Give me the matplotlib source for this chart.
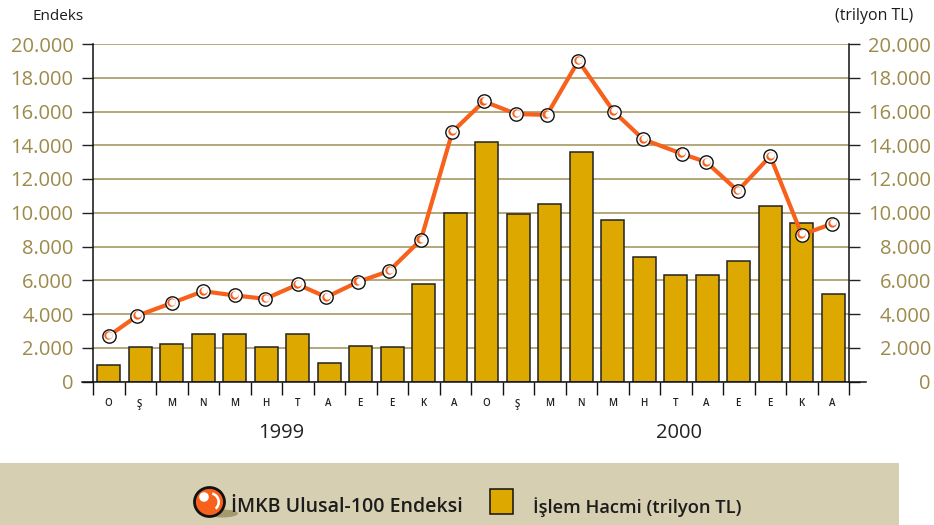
import matplotlib
matplotlib.use("Agg")
import matplotlib.pyplot as plt
from matplotlib.patches import Rectangle, Circle, Ellipse, Wedge
from matplotlib.transforms import ScaledTranslation

months = ["O","Ş","M","N","M","H","T","A","E","E","K","A","O","Ş","M","N","M","H","T","A","E","E","K","A"]
index_values = [2700,3900,4650,5350,5100,4900,5750,5000,5900,6550,8400,14800,16600,15850,15800,19000,16000,14350,13500,13000,11300,13350,8700,9350]
volume_values = [950,2050,2200,2800,2800,2050,2800,1100,2100,2050,5800,10000,14200,9900,10500,13600,9550,7400,6300,6300,7150,10400,9400,5200]
y_ticks = list(range(0,20001,2000))
y_labels = ["0","2.000","4.000","6.000","8.000","10.000","12.000","14.000","16.000","18.000","20.000"]
years = ["1999","2000"]

W,H = 934,525
plt.rcParams['font.family'] = ['Open Sans','DejaVu Sans']
fig = plt.figure(figsize=(W/100,H/100),dpi=100)
L,R,T,B = 93,849,44,381.5
ax = fig.add_axes([L/W,1-B/H,(R-L)/W,(B-T)/H])
ax.set_xlim(0,24); ax.set_ylim(0,20000)
GOLD="#9c8a4a"; ORANGE="#f7611b"; INK="#1c1c1c"
ax.set_yticks(y_ticks); ax.set_yticklabels(y_labels,fontsize=14.5,color=GOLD)
ax.tick_params(axis='y',length=8.2,width=1.0,color='#222222',pad=5.8,right=True,labelright=True,left=True,labelleft=True)
ax.grid(axis='y',color='#a89a62',lw=1.2)
ax.set_axisbelow(True)
ax.spines['top'].set_visible(False)
for s in ['left','right','bottom']:
    ax.spines[s].set_linewidth(1.1); ax.spines[s].set_color('#111111')
ax.spines['bottom'].set_bounds(-0.35,24.54)
ax.spines['bottom'].set_zorder(6)
x=[i+0.5 for i in range(24)]
ax.bar(x,volume_values,width=0.73,color='#dda900',edgecolor='#222222',lw=1.1,zorder=3)
ax.set_xticks(range(25)); ax.set_xticklabels([])
ax.tick_params(axis='x',length=9.2,width=1.0,color='#111111')
# the line's points sit slightly off the bar centres in the source
shift = [0,-.09,0,0,0,-.03,0,-.09,-.09,-.1,-.09,-.09,-.09,-.06,-.09,-.09,.03,-.03,.19,-.03,-.03,0,0,-.03]
lx = [a+b for a,b in zip(x,shift)]
ax.plot(lx,index_values,color=ORANGE,lw=3,zorder=4,solid_joinstyle='round')
ax.plot(lx,index_values,ls='none',marker='o',ms=9.6,mfc='white',mec='#111111',mew=1.0,zorder=5)
ax.plot(lx,index_values,ls='none',marker='o',ms=6,mfc=ORANGE,mec='none',zorder=6,
        transform=ax.transData+ScaledTranslation(-0.4/72,0.4/72,fig.dpi_scale_trans))
ax.plot(lx,index_values,ls='none',marker='o',ms=4.6,mfc='white',mec='none',zorder=7,
        transform=ax.transData+ScaledTranslation(0.5/72,0.9/72,fig.dpi_scale_trans))
for xi,m in zip(x,months):
    ax.annotate(m,(xi,0),xycoords='data',xytext=(-0.4,-16.2),textcoords='offset points',ha='center',va='center',fontsize=7,color='#222222',fontweight='semibold',annotation_clip=False)
for lab,pos in zip(years,(5.97,18.6)):
    ax.annotate(lab,(pos,0),xycoords='data',xytext=(0,-37),textcoords='offset points',ha='center',va='center',fontsize=14.5,color='#222222',annotation_clip=False)
fig.canvas.draw()
for tick in ax.yaxis.get_major_ticks():
    tick.label2.set_ha('right')
    tick.label2.set_transform(ax.get_yaxis_transform() + ScaledTranslation(82/100,0,fig.dpi_scale_trans))
fig.text(33/W,1-16/H,"Endeks",fontsize=11,color=INK,ha='left',va='center')
fig.text(913/W,1-16/H,"(trilyon TL)",fontsize=11.4,color=INK,ha='right',va='center')
bg = fig.add_axes([0,0,1,1],zorder=-1); bg.set_xlim(0,W); bg.set_ylim(H,0); bg.axis('off')
bg.add_patch(Rectangle((0,463),899,62,fc='#d6cfb2',ec='none'))
fg = fig.add_axes([0,0,1,1],zorder=10); fg.set_xlim(0,W); fg.set_ylim(H,0); fg.axis('off'); fg.patch.set_alpha(0)
fg.add_patch(Ellipse((222,513.5),32,8,fc='#a69a6c',ec='none'))
fg.add_patch(Ellipse((209.5,502),30,29,fc=ORANGE,ec='#111111',lw=2))
fg.add_patch(Wedge((210,502),10,-75,50,width=2.6,fc='white',ec='none'))
fg.add_patch(Circle((204,497),4.8,fc='white',ec='none'))
fg.add_patch(Rectangle((490,489),23,25,fc='#dda900',ec='#111111',lw=1.1))
fg.text(231,507,"İMKB Ulusal-100 Endeksi",fontsize=14,fontweight='semibold',color=INK,ha='left',va='center')
fg.text(533,507,"İşlem Hacmi (trilyon TL)",fontsize=13.2,fontweight='semibold',color=INK,ha='left',va='center')
fig.savefig("out.png",dpi=100)
